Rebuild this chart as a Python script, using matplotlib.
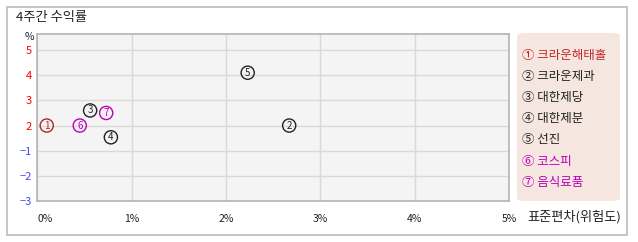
import numpy as np
import matplotlib
matplotlib.use("Agg")
import matplotlib.pyplot as plt
from matplotlib.patches import Rectangle, FancyBboxPatch

plt.rcParams['font.family'] = ['Noto Sans CJK KR', 'DejaVu Sans']

# 데이터
names = ["크라운해태홀", "크라운제과", "대한제당", "대한제분", "선진", "코스피", "음식료품"]
marks = ["①", "②", "③", "④", "⑤", "⑥", "⑦"]
risk = [0.10, 2.67, 0.56, 0.78, 2.23, 0.45, 0.73]      # 표준편차 (%)
ret = [2.0, 2.0, 2.6, 0.6, 4.1, 2.0, 2.5]              # 4주간 수익률 (%)
colors = ["#a52a2a", "#222222", "#222222", "#222222", "#222222", "#bb00bb", "#bb00bb"]
legend_colors = ["#c0282a", "#222222", "#222222", "#222222", "#222222", "#bb00bb", "#bb00bb"]

yticks = [-3, -2, -1, 2, 3, 4, 5]
xticks = [0, 1, 2, 3, 4, 5]

# 비선형 y축 (tick 간격 일정)
scale_vals = np.array([-3, -2, -1, 2, 3, 4, 5, 6], dtype=float)
scale_pos = np.arange(len(scale_vals), dtype=float)


def fwd(v):
    return np.interp(v, scale_vals, scale_pos)


def inv(p):
    return np.interp(p, scale_pos, scale_vals)


fig = plt.figure(figsize=(6.38, 2.42), dpi=100)
W, H = 638, 242

# 바깥 테두리
fig.add_artist(Rectangle((7 / W, 1 - 235 / H), 620 / W, 228 / H, transform=fig.transFigure,
                         fill=False, edgecolor="#bbbbbb", linewidth=1.2))

ax = fig.add_axes([37.3 / W, 41 / H, 471.7 / W, 167 / H])
ax.set_facecolor("#f4f4f4")
ax.set_yscale("function", functions=(fwd, inv))
ax.set_xlim(0, 5)
ax.set_ylim(-3, 5.64)
ax.set_yticks(yticks)
ax.set_yticklabels([str(v).replace("-", "\u2212") for v in yticks], fontsize=8)
for lab, v in zip(ax.get_yticklabels(), yticks):
    lab.set_color("#ff0000" if v > 0 else "#4444ff")
ax.set_xticks(xticks)
ax.set_xticklabels([f"{v}%" for v in xticks], fontsize=7.5, color="#222222")
ax.get_xticklabels()[0].set_horizontalalignment("left")
ax.tick_params(axis="both", length=0)
ax.tick_params(axis="y", pad=4)
ax.tick_params(axis="x", pad=9)
ax.grid(True, color="#d9d9d9", linewidth=1)
ax.set_axisbelow(True)
for s in ax.spines.values():
    s.set_color("#b4b4b4")
    s.set_linewidth(1.2)

# 점
ax.scatter(risk, ret, s=90, facecolor="none", edgecolor=colors, linewidths=1.0, zorder=3)
for i in range(len(names)):
    ax.text(risk[i], ret[i], str(i + 1), color=colors[i], fontsize=7,
            ha="center", va="center", zorder=4)

# 텍스트
fig.text(16 / W, 1 - 18 / H, "4주간 수익률", fontsize=9.5, color="#222222", va="center")
fig.text(25 / W, 1 - 37 / H, "%", fontsize=7.5, color="#222222", va="center")
fig.text(527 / W, 1 - 217 / H, "표준편차(위험도)", fontsize=9.5, color="#222222", va="center")

# 범례
fig.add_artist(FancyBboxPatch((517 / W, 1 - 201 / H), 103 / W, 168 / H,
                              boxstyle="round,pad=0,rounding_size=0.012",
                              transform=fig.transFigure, facecolor="#f5e7df", edgecolor="none"))
for i, nm in enumerate(names):
    y = 55 + i * 21.2
    fig.text(522 / W, 1 - y / H, f"{marks[i]} {nm}", fontsize=9, color=legend_colors[i],
             va="center")

fig.savefig("out.png", dpi=100, facecolor="white")
